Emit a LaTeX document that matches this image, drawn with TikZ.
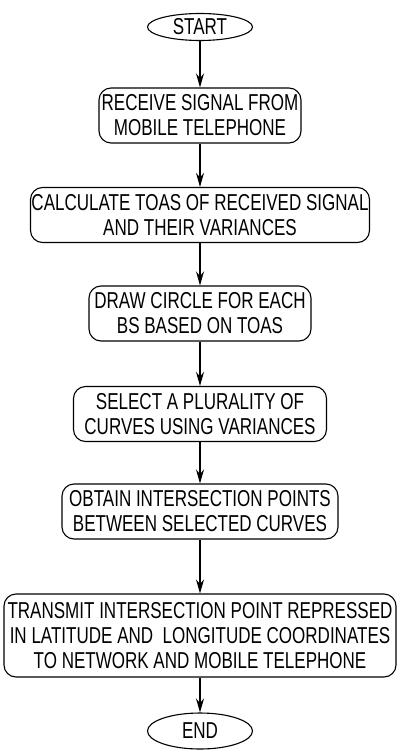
\documentclass[tikz,border=0pt]{standalone}
\usepackage{fontspec}
\newfontfamily\flowfont[FakeStretch=0.74]{Liberation Sans}
\usetikzlibrary{arrows.meta,shapes.geometric}
\tikzset{
  stepblk/.style={draw, rounded corners=12pt, line width=1.1pt, align=center, inner sep=0pt,
              minimum height=55pt, font=\flowfont\fontsize{23}{25}\selectfont},
  termblk/.style={draw, ellipse, line width=1.1pt, inner sep=0pt, minimum width=105pt,
              minimum height=27pt, font=\flowfont\fontsize{23}{25}\selectfont},
  flowarr/.style={-{Stealth[length=14pt,width=8pt]}, line width=1.1pt},
}
\begin{document}
\begin{tikzpicture}[x=1pt,y=1pt]
    \useasboundingbox (0,0) rectangle (403,-752);
    % terminals and steps
    \node[termblk] (start) at (200,-27) {START};
    \node[stepblk, minimum width=202pt] (rcv) at (200,-115.5) {RECEIVE SIGNAL FROM\\MOBILE TELEPHONE};
    \node[stepblk, minimum width=339pt] (toa) at (200,-215) {CALCULATE TOAS OF RECEIVED SIGNAL\\AND THEIR VARIANCES};
    \node[stepblk, minimum width=222pt] (circ) at (200,-313.5) {DRAW CIRCLE FOR EACH\\BS BASED ON TOAS};
    \node[stepblk, minimum width=253pt] (sel) at (200,-414) {SELECT A PLURALITY OF\\CURVES USING VARIANCES};
    \node[stepblk, minimum width=276pt] (isec) at (200,-511.5) {OBTAIN INTERSECTION POINTS\\BETWEEN SELECTED CURVES};
    \node[stepblk, minimum width=392pt, minimum height=83pt] (tx) at (200,-635.5) {TRANSMIT INTERSECTION POINT REPRESSED\\IN LATITUDE AND\ \ LONGITUDE COORDINATES\\TO NETWORK AND MOBILE TELEPHONE};
    \node[termblk, minimum height=36pt] (stop) at (200,-731) {END};
    % flow
    \draw[flowarr] (start) -- (rcv);
    \draw[flowarr] (rcv) -- (toa);
    \draw[flowarr] (toa) -- (circ);
    \draw[flowarr] (circ) -- (sel);
    \draw[flowarr] (sel) -- (isec);
    \draw[flowarr] (isec) -- (tx);
    \draw[flowarr] (tx) -- (stop);
\end{tikzpicture}
\end{document}
